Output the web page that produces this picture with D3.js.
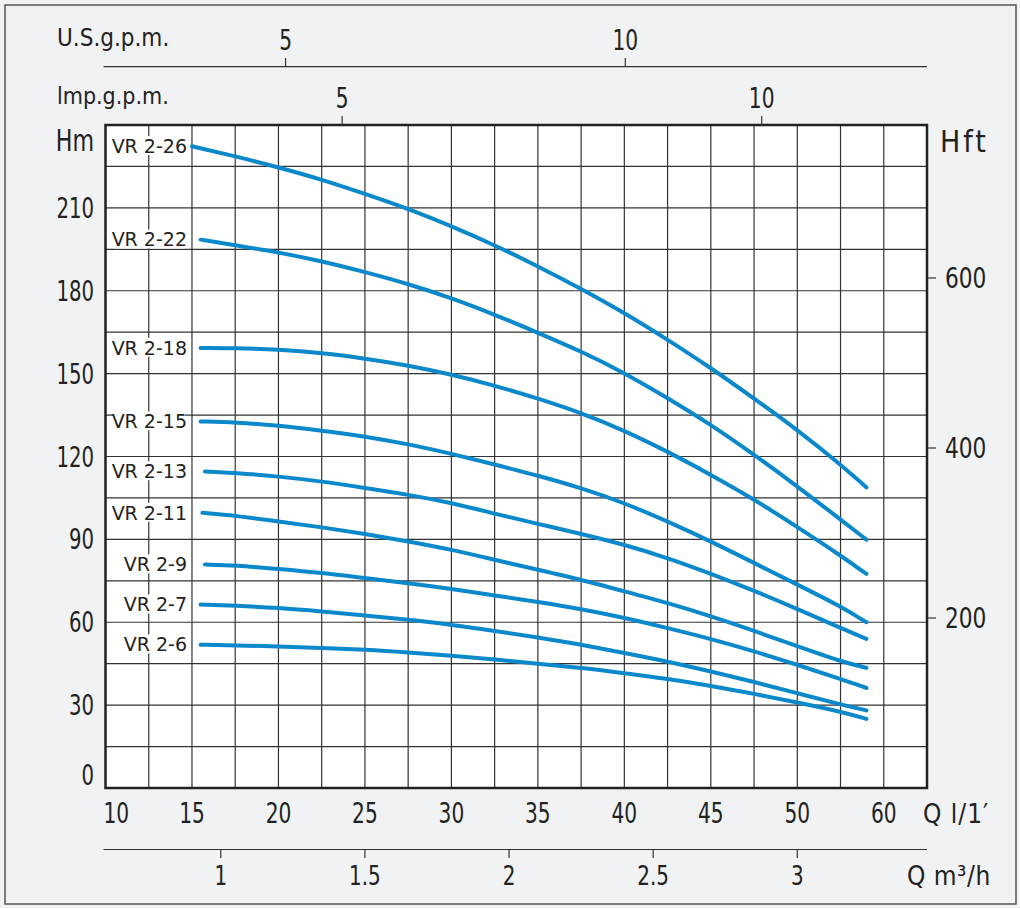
<!DOCTYPE html>
<html>
<head>
<meta charset="utf-8">
<script src="https://cdn.jsdelivr.net/npm/d3@7"></script>
<style>
  body { margin: 0; background: #f1f2f4; }
  svg { display: block; }
  text { fill: #222; }
</style>
</head>
<body>
<svg id="chart" width="1020" height="908"></svg>
<script>
// pump models and their curves (Q in l/min, H in m)
const models = ["VR 2-26", "VR 2-22", "VR 2-18", "VR 2-15", "VR 2-13", "VR 2-11", "VR 2-9", "VR 2-7", "VR 2-6"];
const startFlow = [15, 15.5, 15.5, 15.5, 15.75, 15.6, 15.75, 15.5, 15.5];
const flow = [17.5, 20, 22.5, 25, 27.5, 30, 32.5, 35, 37.5, 40, 42.5, 45, 47.5, 50, 52.5, 54];
const heads = [
  [232.3, 228.7, 224.7, 220.3, 215.1, 209.7, 203.4, 196.5, 188.9, 180.7, 172.0, 162.3, 152.1, 141.0, 129.7, 117.1, 108.8],
  [198.5, 196.5, 193.9, 190.7, 186.8, 182.5, 177.4, 171.4, 164.8, 158.1, 150.3, 141.2, 131.6, 120.7, 109.2, 97.2, 89.9],
  [159.3, 159.3, 158.7, 157.5, 155.5, 153.0, 149.7, 145.7, 141.0, 135.8, 129.4, 121.8, 113.4, 104.5, 94.5, 84.2, 77.5],
  [132.7, 132.4, 131.2, 129.4, 127.3, 124.5, 121.0, 117.1, 113.1, 108.6, 103.2, 96.5, 89.3, 81.5, 73.6, 65.8, 60.0],
  [114.6, 114.1, 112.8, 111.0, 108.6, 106.2, 103.2, 99.3, 95.6, 92.0, 88.1, 83.3, 77.6, 71.4, 64.8, 57.9, 54.0],
  [99.6, 98.6, 96.5, 94.4, 92.0, 89.3, 86.3, 82.6, 79.0, 75.4, 71.2, 67.0, 62.2, 56.9, 51.3, 45.8, 43.5],
  [80.9, 80.6, 79.3, 77.9, 76.0, 74.2, 72.1, 69.7, 67.4, 64.8, 61.6, 57.9, 54.0, 49.5, 44.6, 39.5, 36.2],
  [66.4, 66.0, 65.2, 63.9, 62.5, 60.9, 59.1, 56.9, 54.5, 51.9, 48.9, 45.8, 42.2, 38.4, 34.3, 30.2, 28.1],
  [51.9, 51.6, 51.3, 50.7, 50.1, 49.1, 47.9, 46.5, 45.0, 43.5, 41.6, 39.5, 37.0, 34.1, 31.0, 27.7, 25.0]
];

// axis ticks
const qTicks = [10, 15, 20, 25, 30, 35, 40, 45, 50, 55];
const qTickLabels = ["10", "15", "20", "25", "30", "35", "40", "45", "50", "60"];
const m3hTicks = [1, 1.5, 2, 2.5, 3];
const hmTicks = [0, 30, 60, 90, 120, 150, 180, 210];
const hftTicks = [200, 400, 600];
const usTicks = [5, 10];
const impTicks = [5, 10];

const svg = d3.select("#chart");
const pLeft = 105.5, pRight = 927, pTop = 125, pBottom = 788;
const axisFont = "'Liberation Sans Narrow', 'DejaVu Sans Condensed', sans-serif";

const x = d3.scaleLinear().domain([10, 57.5]).range([pLeft, pRight]);
const y = d3.scaleLinear().domain([0, 240]).range([pBottom, pTop]);
const yFt = d3.scaleLinear().domain([0, 780]).range([pBottom, pTop]);
const xM3h = d3.scaleLinear().domain([0.6, 3.45]).range([pLeft, pRight]);
const xUs = d3.scaleLinear().domain([2.35, 14.44]).range([pLeft, pRight]);
const xImp = d3.scaleLinear().domain([2.18, 11.97]).range([pLeft, pRight]);

// squeeze glyphs so the numbers look like the narrow DIN digits
function condense(sel, k) {
  sel.each(function () {
    const w = this.getComputedTextLength();
    d3.select(this).attr("textLength", w * k).attr("lengthAdjust", "spacingAndGlyphs");
  });
}

// outer frame
svg.append("rect")
  .attr("x", 5).attr("y", 5).attr("width", 1011).attr("height", 899)
  .attr("fill", "#f1f2f4").attr("stroke", "#555").attr("stroke-width", 1.5);

// plot area
svg.append("rect")
  .attr("x", pLeft).attr("y", pTop).attr("width", pRight - pLeft).attr("height", pBottom - pTop)
  .attr("fill", "#fff");

// grid
const grid = svg.append("g").attr("stroke", "#333").attr("stroke-width", 1.2);
grid.selectAll(".vg").data(d3.range(12.5, 57.5, 2.5)).enter().append("line")
  .attr("x1", d => x(d)).attr("x2", d => x(d)).attr("y1", pTop).attr("y2", pBottom);
grid.selectAll(".hg").data(d3.range(15, 240, 15)).enter().append("line")
  .attr("x1", pLeft).attr("x2", pRight).attr("y1", d => y(d)).attr("y2", d => y(d));

// curve labels with white boxes
const labels = svg.append("g")
  .style("font-family", "'DejaVu Sans', sans-serif").style("font-size", "19px");
models.forEach((m, i) => {
  const t = labels.append("text")
    .attr("x", 187).attr("y", y(heads[i][0]))
    .attr("dy", "0.36em").attr("text-anchor", "end").text(m);
  const b = t.node().getBBox();
  labels.insert("rect", "text")
    .attr("x", b.x + 2).attr("y", b.y + 1).attr("width", b.width - 4).attr("height", b.height - 3)
    .attr("fill", "#fff");
});

// curves
const line = d3.line().x(d => x(d[0])).y(d => y(d[1])).curve(d3.curveBasis);
svg.append("g").selectAll("path")
  .data(heads.map((h, i) => h.map((v, j) => [j === 0 ? startFlow[i] : flow[j - 1], v])))
  .enter().append("path")
  .attr("d", line)
  .attr("fill", "none").attr("stroke", "#0a88cc").attr("stroke-width", 4)
  .attr("stroke-linecap", "round");

// plot border
svg.append("rect")
  .attr("x", pLeft).attr("y", pTop).attr("width", pRight - pLeft).attr("height", pBottom - pTop)
  .attr("fill", "none").attr("stroke", "#222").attr("stroke-width", 2.5);

const txt = svg.append("g").style("font-family", axisFont);

// left Hm axis
txt.selectAll(".hm").data(hmTicks).enter().append("text")
  .attr("x", 94).attr("y", d => d === 0 ? y(d) - 3 : y(d) + 10)
  .attr("text-anchor", "end").style("font-size", "28px").text(d => d)
  .call(condense, 0.78);
txt.append("text").attr("x", 94).attr("y", 151).attr("text-anchor", "end")
  .style("font-size", "30px").text("Hm")
  .call(condense, 0.82);

// right Hft axis
const ftAxis = svg.append("g");
ftAxis.selectAll("line").data(hftTicks).enter().append("line")
  .attr("x1", pRight).attr("x2", pRight + 9).attr("y1", d => yFt(d)).attr("y2", d => yFt(d))
  .attr("stroke", "#333").attr("stroke-width", 1.2);
txt.selectAll(".ft").data(hftTicks).enter().append("text")
  .attr("x", 945).attr("y", d => yFt(d) + 10)
  .style("font-size", "28px").text(d => d)
  .call(condense, 0.86);
txt.append("text").attr("x", 940).attr("y", 152)
  .style("font-size", "30px").style("letter-spacing", "3px").text("Hft");

// bottom Q l/min labels
txt.selectAll(".q").data(qTicks).enter().append("text")
  .attr("x", (d, i) => i === 0 ? x(d) - 2 : x(d))
  .attr("y", 823)
  .attr("text-anchor", (d, i) => i === 0 ? "start" : "middle")
  .style("font-size", "28px")
  .text((d, i) => qTickLabels[i])
  .call(condense, 0.8);
txt.append("text").attr("x", 923).attr("y", 823)
  .style("font-size", "26px").style("letter-spacing", "1px").text("Q l/1′");

// bottom m3/h axis
const mAxis = svg.append("g").attr("stroke", "#333").attr("stroke-width", 1.2);
mAxis.append("line").attr("x1", pLeft - 2).attr("x2", pRight).attr("y1", 849.5).attr("y2", 849.5);
mAxis.selectAll(".t").data(m3hTicks).enter().append("line")
  .attr("x1", d => xM3h(d)).attr("x2", d => xM3h(d)).attr("y1", 849.5).attr("y2", 858);
txt.selectAll(".m3").data(m3hTicks).enter().append("text")
  .attr("x", d => xM3h(d)).attr("y", 885).attr("text-anchor", "middle")
  .style("font-size", "27px").text(d => d)
  .call(condense, 0.82);
txt.append("text").attr("x", 907).attr("y", 885)
  .style("font-size", "26px").style("letter-spacing", "0.5px")
  .text("Q m³/h");

// top U.S.g.p.m. axis
const usAxis = svg.append("g").attr("stroke", "#333").attr("stroke-width", 1.2);
usAxis.append("line").attr("x1", pLeft - 2).attr("x2", pRight).attr("y1", 66.7).attr("y2", 66.7);
usAxis.selectAll(".t").data(usTicks).enter().append("line")
  .attr("x1", d => xUs(d)).attr("x2", d => xUs(d)).attr("y1", 58).attr("y2", 66.7);
txt.selectAll(".us").data(usTicks).enter().append("text")
  .attr("x", d => xUs(d)).attr("y", 50).attr("text-anchor", "middle")
  .style("font-size", "28px").text(d => d)
  .call(condense, 0.8);
txt.append("text").attr("x", 57).attr("y", 46)
  .style("font-size", "24px").text("U.S.g.p.m.");

// top Imp.g.p.m. axis (ticks on the plot border)
svg.append("g").selectAll("line").data(impTicks).enter().append("line")
  .attr("x1", d => xImp(d)).attr("x2", d => xImp(d)).attr("y1", 116).attr("y2", pTop)
  .attr("stroke", "#333").attr("stroke-width", 1.2);
txt.selectAll(".imp").data(impTicks).enter().append("text")
  .attr("x", d => xImp(d)).attr("y", 108).attr("text-anchor", "middle")
  .style("font-size", "28px").text(d => d)
  .call(condense, 0.8);
txt.append("text").attr("x", 57).attr("y", 104)
  .style("font-size", "23px").text("lmp.g.p.m.");
</script>
</body>
</html>
